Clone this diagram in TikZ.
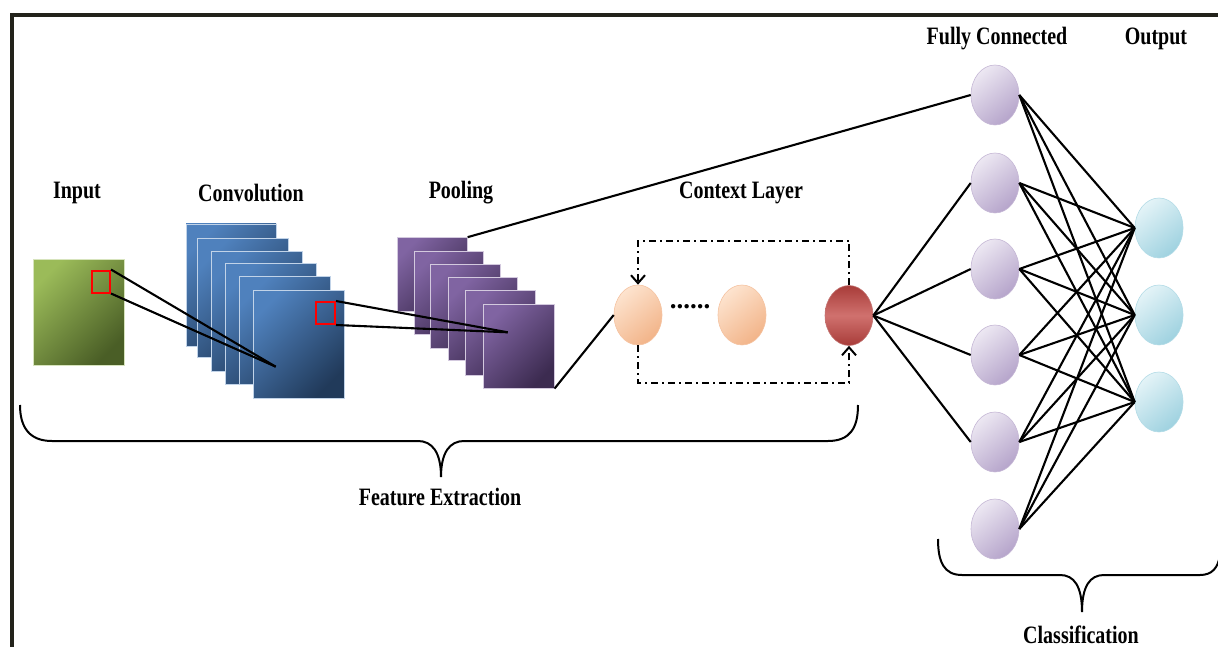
\documentclass[tikz,border=0pt]{standalone}
\usepackage{fontspec}
\usepackage{graphicx}
\setmainfont{Liberation Serif}
\usetikzlibrary{shapes.geometric,arrows.meta}
\definecolor{grnL}{HTML}{9BBB59}
\definecolor{grnD}{HTML}{4A5E26}
\definecolor{bluL}{HTML}{4F81BD}
\definecolor{bluD}{HTML}{213A5A}
\definecolor{purL}{HTML}{8064A2}
\definecolor{purD}{HTML}{3C2B50}
\definecolor{fcL}{HTML}{ECE7F2}
\definecolor{fcD}{HTML}{B6A5CB}
\definecolor{orL}{HTML}{FDE3CE}
\definecolor{orD}{HTML}{F2B489}
\definecolor{rdL}{HTML}{D0716E}
\definecolor{rdD}{HTML}{A83C39}
\definecolor{cyL}{HTML}{E3F3F7}
\definecolor{cyD}{HTML}{9FD2E0}
\definecolor{frameC}{HTML}{23231B}
\newcommand\lbl[1]{\scalebox{1}[1.25]{#1}}
\begin{document}
\begin{tikzpicture}[x=1pt,y=-1pt,
  sq/.style={rectangle,inner sep=0pt,line width=0.7pt},
  inp/.style={sq,draw=grnL!40!white,top color=grnL,bottom color=grnD,shading angle=45},
  conv/.style={sq,draw=bluL!35!white,top color=bluL,bottom color=bluD,shading angle=45},
  pool/.style={sq,draw=purL!35!white,top color=purL,bottom color=purD,shading angle=45},
  redsq/.style={rectangle,inner sep=0pt,draw=red,line width=2pt},
  neuron/.style={ellipse,inner sep=0pt,minimum width=48pt,minimum height=60pt,line width=0.6pt},
  fcn/.style={neuron,draw=fcD!80!white,top color=fcL,bottom color=fcD,shading angle=40},
  orn/.style={neuron,draw=orD!80!white,top color=orL,bottom color=orD,shading angle=40},
  rdn/.style={neuron,draw=rdD!70!white,top color=rdD,bottom color=rdD,middle color=rdL},
  cyn/.style={neuron,draw=cyD!80!white,top color=cyL,bottom color=cyD,shading angle=40},
  conn/.style={line width=2.1pt,black},
  loopline/.style={line width=2.2pt,black,dash pattern=on 7pt off 4pt on 2pt off 4pt},
  looptip/.style={-{Straight Barb[length=8pt,width=14pt,line width=2pt]}},
  brace/.style={line width=2pt,black},
  frame/.style={line width=4pt,frameC},
  lab/.style={inner sep=0pt,font=\fontsize{20}{24}\selectfont\bfseries}]
\useasboundingbox (0,0) rectangle (1218,647);
\clip (0,0) rectangle (1218,647);
% frame
\draw[frame] (10,15) -- (1230,15);
\draw[frame] (12,13) -- (12,660);
% labels
\node[lab] (tIn) at (77,193) {\lbl{Input}};
\node[lab] (tConv) at (251,193) {\lbl{Convolution}};
\node[lab] (tPool) at (461,193) {\lbl{Pooling}};
\node[lab] (tCtx) at (741,193) {\lbl{Context Layer}};
\node[lab] (tFC) at (997,39) {\lbl{Fully Connected}};
\node[lab] (tOut) at (1156,39) {\lbl{Output}};
\node[lab] (tFE) at (440,497) {\lbl{Feature Extraction}};
\node[lab] (tCl) at (1081,635) {\lbl{Classification}};
% input
\node[inp,minimum width=91pt,minimum height=106pt] (in) at (78.8,312) {};
\node[redsq,minimum width=18pt,minimum height=22pt] (rin) at (101,281.5) {};
% convolution stack
\node[conv,minimum width=90pt,minimum height=122pt] (c1) at (231,285) {};
\node[conv,minimum width=91pt,minimum height=119pt] (c2) at (243,298) {};
\node[conv,minimum width=91pt,minimum height=120pt] (c3) at (257,311) {};
\node[conv,minimum width=91pt,minimum height=121pt] (c4) at (270.5,324) {};
\node[conv,minimum width=91pt,minimum height=108pt] (c5) at (285,330.5) {};
\node[conv,minimum width=91pt,minimum height=108pt] (c6) at (298.7,344) {};
\node[redsq,minimum width=19pt,minimum height=22pt] (rc) at (325.5,313) {};
\coordinate (cpt) at (275.7,366.7);
\draw[conn] (rin.north east) -- (cpt);
\draw[conn] (rin.south east) -- (cpt);
% pooling stack
\node[pool,minimum width=70pt,minimum height=74pt] (p1) at (432.3,274.5) {};
\node[pool,minimum width=69pt,minimum height=83pt] (p2) at (448.7,293.3) {};
\node[pool,minimum width=70pt,minimum height=84pt] (p3) at (465.8,306.2) {};
\node[pool,minimum width=69pt,minimum height=83pt] (p4) at (483,318.7) {};
\node[pool,minimum width=70pt,minimum height=85pt] (p5) at (500.7,332.5) {};
\node[pool,minimum width=71pt,minimum height=84pt] (p6) at (518.7,346.2) {};
\coordinate (ppt) at (507.7,332.3);
\draw[conn] (rc.north east) -- (ppt);
\draw[conn] (rc.south east) -- (ppt);
% context layer
\node[orn] (ctx1) at (638,315) {};
\node[orn] (ctx2) at (742,315) {};
\node[rdn] (ctxr) at (849,315.5) {};
\node[inner sep=0pt,font=\fontsize{27}{27}\selectfont\bfseries] (dots) at (690,307) {......};
\draw[loopline,looptip] (ctxr.north) -- ++(0,-44.5) -| (ctx1.north);
\draw[loopline,looptip] (ctx1.south) -- ++(0,38) -| (ctxr.south);
% fully connected
\foreach \i/\y in {1/95,2/183,3/269,4/355,5/442,6/529}
  \node[fcn] (fc\i) at (995,\y) {};
\foreach \i/\y in {1/228,2/315,3/402}
  \node[cyn] (out\i) at (1159,\y) {};
% connectors
\draw[conn] (p1.north east) -- (fc1.west);
\draw[conn] (p6.south east) -- (ctx1.west);
\foreach \i in {2,3,4,5}
  \draw[conn] (ctxr.east) -- (fc\i.west);
\foreach \i in {1,...,6}
  \foreach \j in {1,2,3}
    \draw[conn] (fc\i.east) -- (out\j.west);
% braces
\draw[brace] (20,405) .. controls (20,428) and (30,441) .. (52,441) -- (418,441)
  .. controls (432,441) and (441,452) .. (441,477)
  .. controls (441,452) and (450,441) .. (464,441) -- (828,441)
  .. controls (850,441) and (858,428) .. (858,405);
\draw[brace] (938,539) .. controls (938,562) and (944,575) .. (962,575) -- (1060,575)
  .. controls (1074,575) and (1082,586) .. (1082,612)
  .. controls (1082,586) and (1090,575) .. (1104,575) -- (1200,575)
  .. controls (1212,575) and (1218,568) .. (1220,555);
\end{tikzpicture}
\end{document}
